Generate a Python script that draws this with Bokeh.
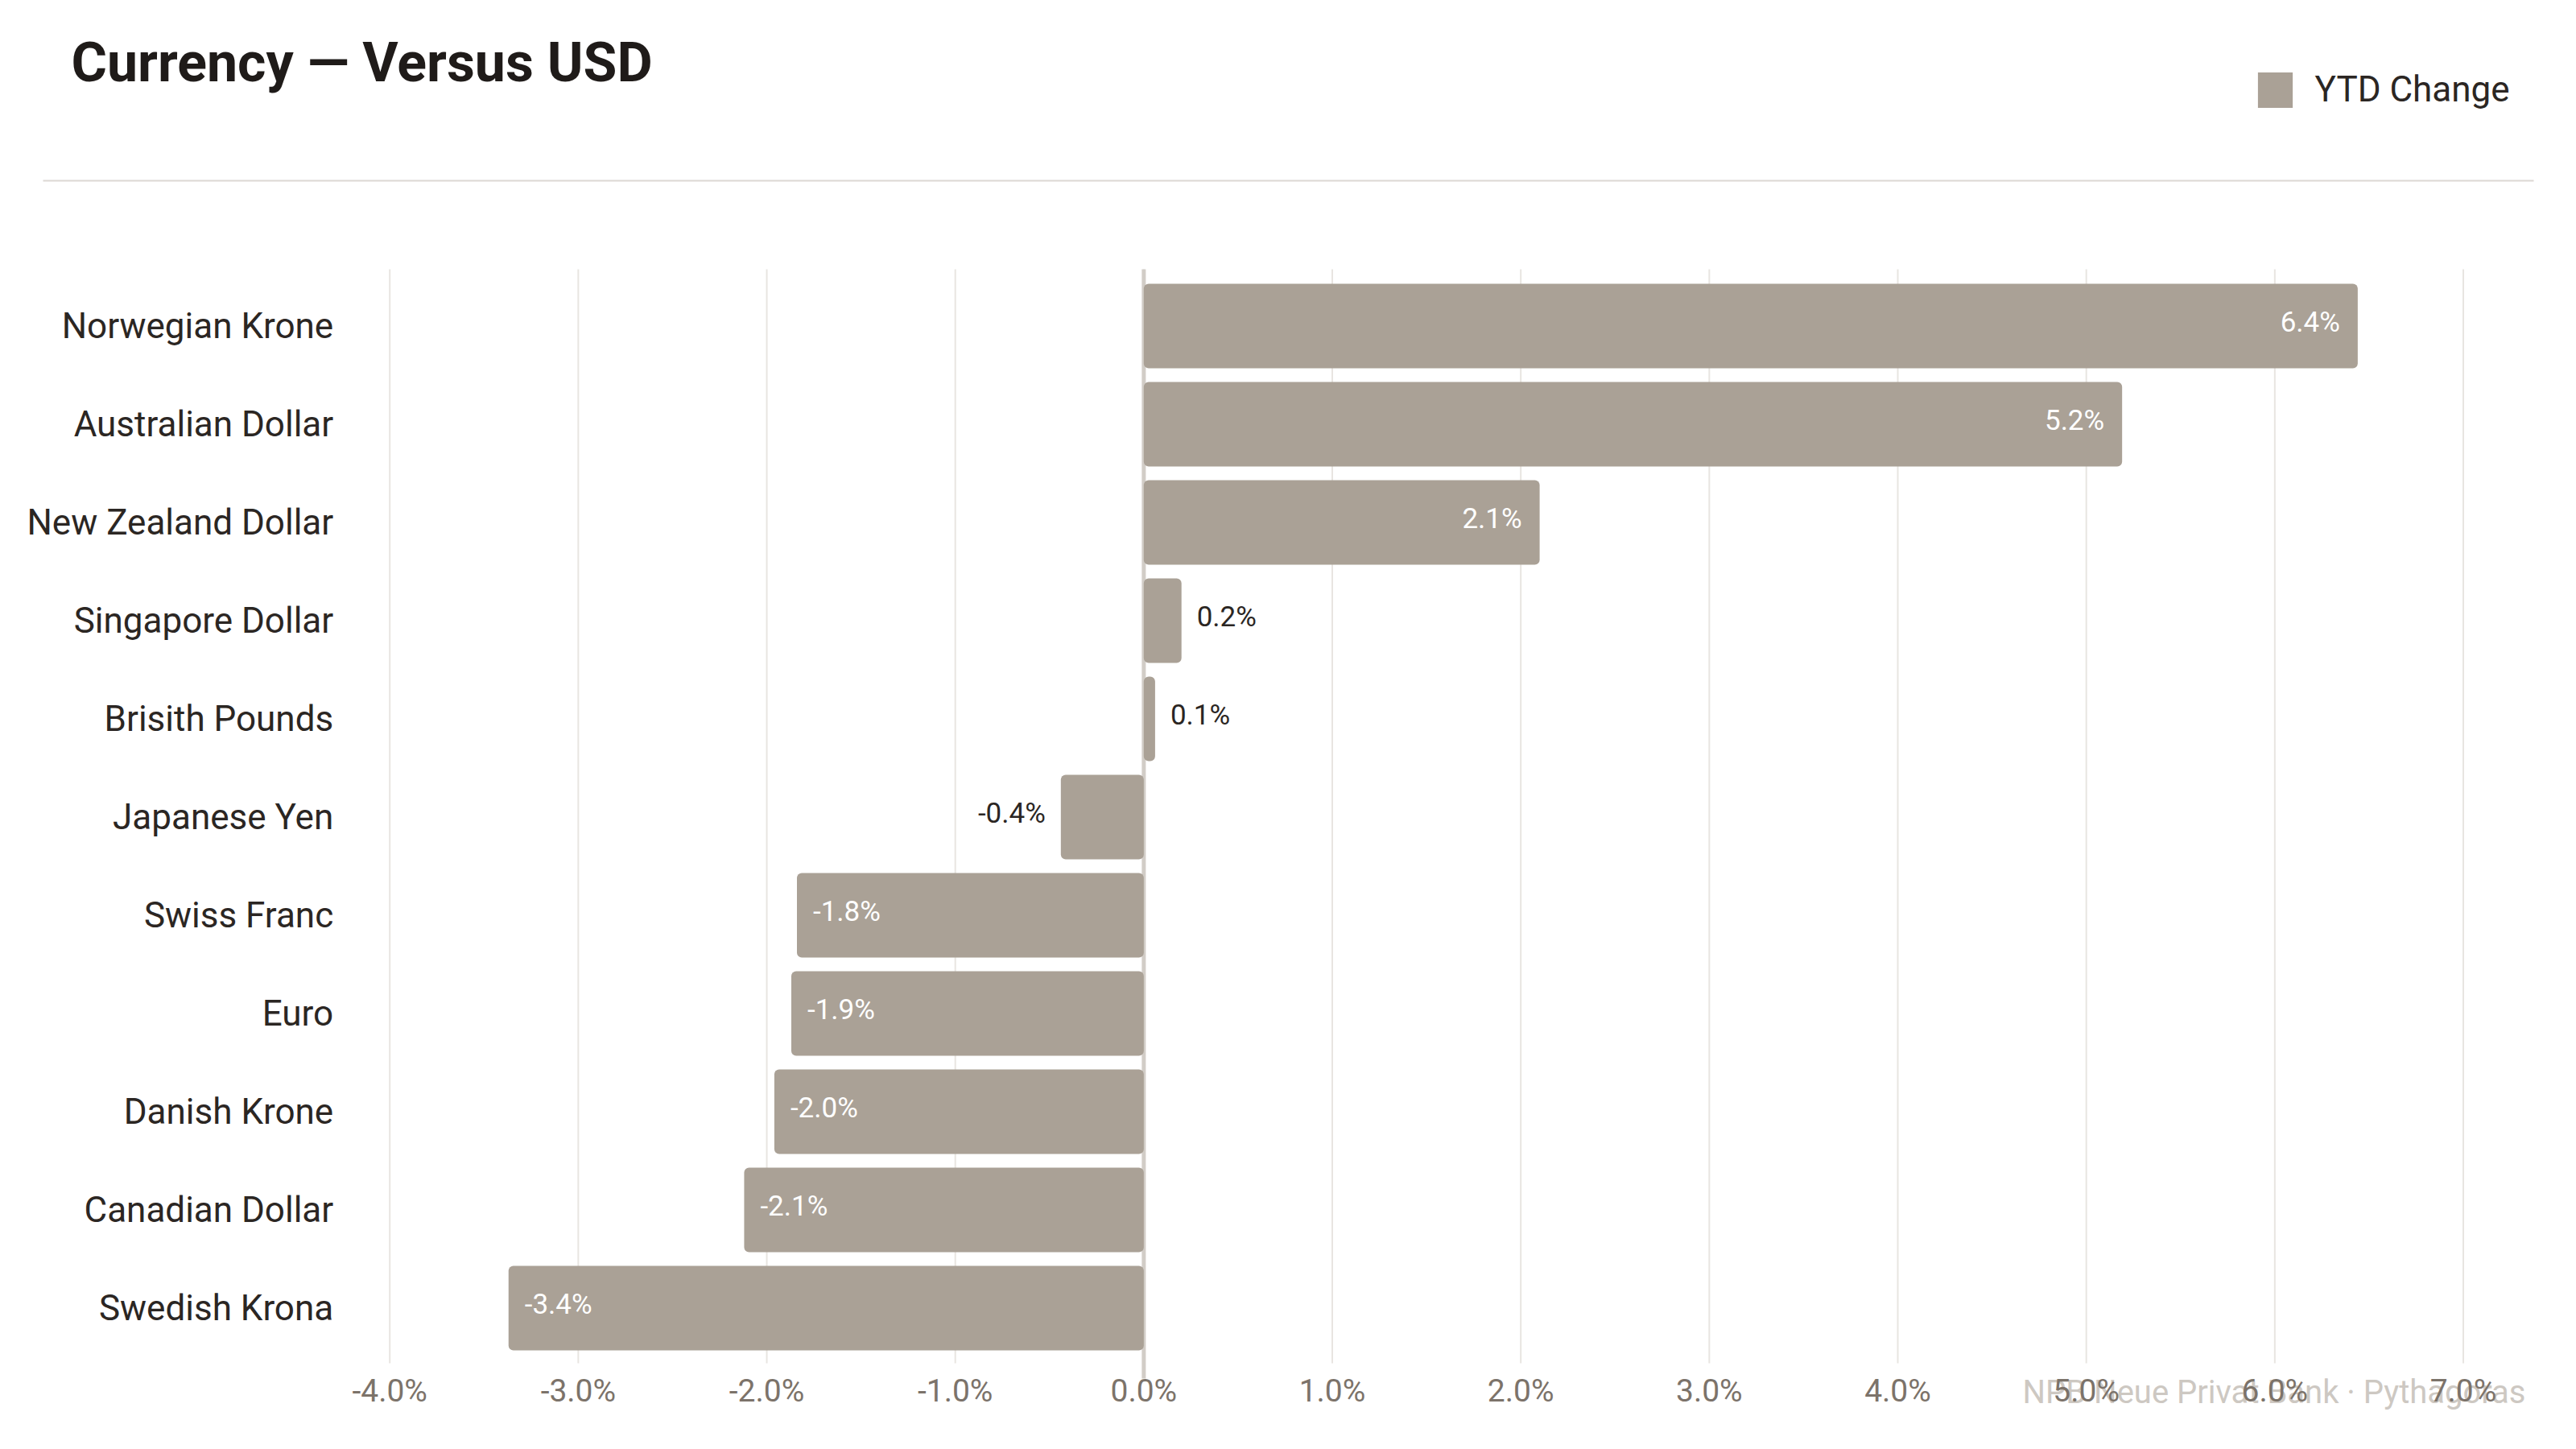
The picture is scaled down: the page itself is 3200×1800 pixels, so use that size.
from bokeh.plotting import figure
from bokeh.models import (Range1d, FixedTicker, PrintfTickFormatter, Label,
                          Legend, LegendItem, ColumnDataSource, BoxAnnotation)
from bokeh.embed import file_html
from bokeh.resources import INLINE
from bokeh.core.properties import value

# ---------------- data ----------------
categories = ["Norwegian Krone", "Australian Dollar", "New Zealand Dollar",
              "Singapore Dollar", "Brisith Pounds", "Japanese Yen", "Swiss Franc",
              "Euro", "Danish Krone", "Canadian Dollar", "Swedish Krona"]
ytd_change = [6.44, 5.19, 2.10, 0.20, 0.06, -0.44, -1.84, -1.87, -1.96, -2.12, -3.37]
x_ticks = [-4, -3, -2, -1, 0, 1, 2, 3, 4, 5, 6, 7]
title_text = "Currency \u2014 Versus USD"
series_name = "YTD Change"
source_text = "NPB Neue Privat Bank \u00b7 Pythagoras"

# ---------------- style / layout ----------------
W = 3184
H = 1784
FONT = "Roboto"
BAR = "#aaa196"
DARK = "#2b2623"
TICK = "#7c736a"
GRID = "#e8e5e1"
ZERO = "#d2cdc7"
WM = "#cdc8c2"
SEP = "#dcd8d3"

# plot area geometry in canvas pixels (the frame covers the whole canvas)
AREA_L, AREA_R = 483.7, 3059.5      # pixel x of first / last x tick
ROW_TOP, ROW_STEP = 404.5, 122.0    # pixel y of first category, spacing

n = len(categories)
pos = [n - 1 - i for i in range(n)]
labels = [f"{v:.1f}%" for v in ytd_change]
inside = [abs(v) >= 1.0 for v in ytd_change]
align, xoff, tcol = [], [], []
for v, ins in zip(ytd_change, inside):
    if ins:
        align.append("right" if v > 0 else "left")
        xoff.append(-22 if v > 0 else 20)
        tcol.append("#ffffff")
    else:
        align.append("left" if v > 0 else "right")
        xoff.append(19 if v > 0 else -19)
        tcol.append(DARK)

src = ColumnDataSource(dict(pos=pos, value=ytd_change, label=labels,
                            align=align, xoff=xoff, tcol=tcol, cat=categories))

# ranges derived from pixel geometry
px_per_x = (AREA_R - AREA_L) / (x_ticks[-1] - x_ticks[0])
x0 = x_ticks[0] - AREA_L / px_per_x
x1 = x_ticks[0] + (W - AREA_L) / px_per_x
y_hi = (n - 1) + ROW_TOP / ROW_STEP
y_lo = (n - 1) - (H - ROW_TOP) / ROW_STEP

y_top = n - 1 + 0.578      # top of grid lines
grid_bot = -0.561          # bottom of grid lines
zero_bot = -0.717          # bottom of zero line / x axis

p = figure(width=W, height=H, x_range=Range1d(x0, x1), y_range=Range1d(y_lo, y_hi),
           min_border_left=0, min_border_right=0, min_border_top=0, min_border_bottom=0,
           toolbar_location=None, output_backend="svg")
p.outline_line_color = None
p.xgrid.visible = False
p.ygrid.visible = False

p.segment(x0=x_ticks, x1=x_ticks, y0=[y_top] * len(x_ticks), y1=[grid_bot] * len(x_ticks),
          line_color=GRID, line_width=2)
p.segment(x0=[0], x1=[0], y0=[y_top], y1=[zero_bot], line_color=ZERO, line_width=5)

bars = p.hbar(y="pos", left=0, right="value", height=0.86, fill_color=BAR, line_color=None,
              border_radius=6, source=src)

p.text(x="value", y="pos", text="label", text_align="align", x_offset="xoff",
       text_color="tcol", text_font=value(FONT), text_font_size="35px",
       text_baseline="middle", y_offset=-5, source=src)

p.xaxis.fixed_location = zero_bot
p.xaxis.ticker = FixedTicker(ticks=x_ticks)
p.xaxis.formatter = PrintfTickFormatter(format="%.1f%%")
p.xaxis.axis_line_color = None
p.xaxis.major_tick_line_color = None
p.xaxis.minor_tick_line_color = None
p.xaxis.major_tick_out = 0
p.xaxis.major_tick_in = 0
p.xaxis.major_label_standoff = -7
p.xaxis.major_label_text_font = FONT
p.xaxis.major_label_text_font_size = "39px"
p.xaxis.major_label_text_color = TICK

p.yaxis.fixed_location = x_ticks[0]
p.yaxis.ticker = FixedTicker(ticks=pos)
p.yaxis.major_label_overrides = {float(k): c for k, c in zip(pos, categories)}
p.yaxis.axis_line_color = None
p.yaxis.major_tick_line_color = None
p.yaxis.minor_tick_line_color = None
p.yaxis.major_tick_out = 0
p.yaxis.major_tick_in = 0
p.yaxis.major_label_standoff = 70
p.yaxis.major_label_text_font = FONT
p.yaxis.major_label_text_font_size = "44px"
p.yaxis.major_label_text_color = DARK

# header: title, separator, legend (screen units, y measured up from the bottom)
p.add_layout(Label(x=88, y=H - 77, x_units="screen", y_units="screen", text=title_text,
                   text_font=FONT, text_font_style="bold", text_font_size="68px",
                   text_color="#1f1b19", text_align="left", text_baseline="alphabetic"))
p.add_layout(BoxAnnotation(left=53, right=3147, bottom=H - 225, top=H - 223,
                           left_units="screen", right_units="screen",
                           bottom_units="screen", top_units="screen",
                           fill_color=SEP, fill_alpha=1, line_color=None))

legend = Legend(items=[LegendItem(label=series_name, renderers=[bars])],
                location=(2798.6, H - 138.5), orientation="horizontal",
                border_line_color=None, background_fill_alpha=0,
                padding=0, margin=0, glyph_width=54, glyph_height=55,
                label_standoff=23, label_text_font=FONT, label_text_font_size="44px",
                label_text_color=DARK, label_height=44)
p.add_layout(legend)

p.add_layout(Label(x=3137, y=H - 1729, x_units="screen", y_units="screen", text=source_text,
                   text_align="right", text_baseline="alphabetic", text_font=FONT,
                   text_font_size="40px", text_color=WM, level="underlay"))

open("out.html", "w").write(file_html(p, INLINE))
